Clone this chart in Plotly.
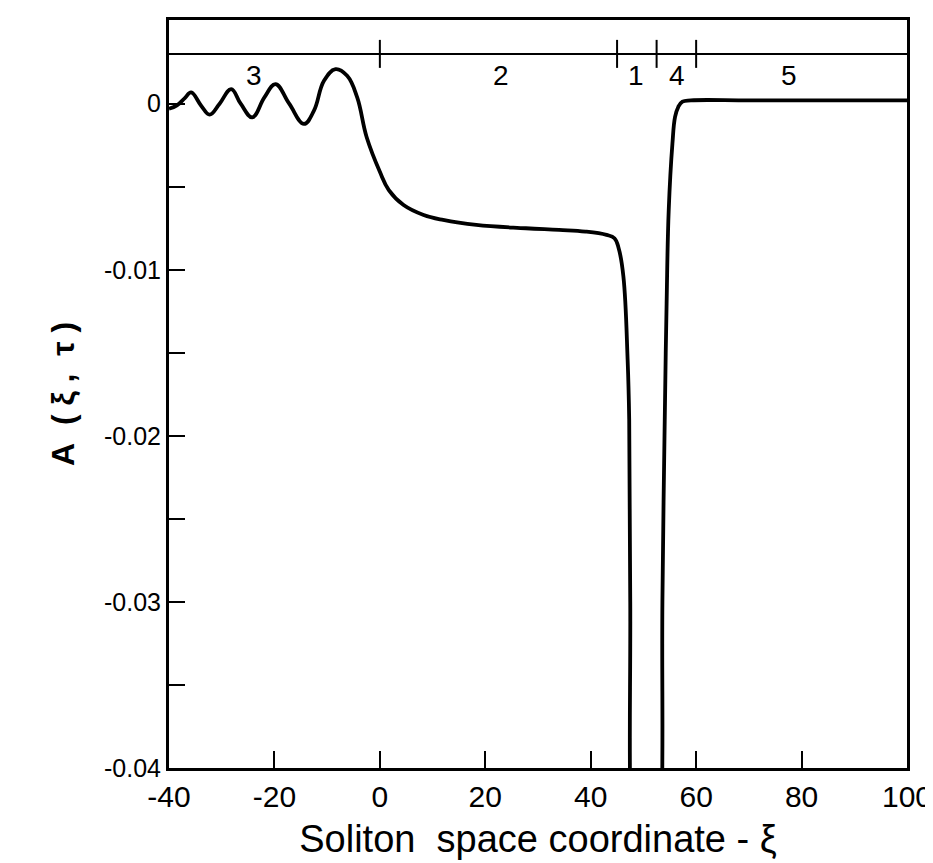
import plotly.graph_objects as go

# Curve A(xi, tau)
xi = [-40.0, -38.5, -37.0, -35.8, -33.9, -32.3, -30.4, -28.2, -26.4, -24.2,
      -21.9, -19.8, -17.2, -14.4, -12.5, -10.6, -8.4, -6.2, -4.3, -2.5,
      0.0, 1.7, 4.5, 8.3, 12.0, 18.3, 27.7, 34.0, 39.0, 43.0, 44.5, 45.3, 46.2,
      47.0, 47.3, 47.5, 47.7, 50.5, 53.3, 53.6, 54.0, 54.4, 54.8, 55.5, 56.0,
      56.6, 57.4, 59.0, 70.0, 85.0, 100.0]
amp = [-0.0003, -0.0001, 0.00034, 0.00068, -0.00012, -0.00066, 0.0, 0.00088,
       0.0, -0.00082, 0.00038, 0.00118, 0.0, -0.00122, -0.00042, 0.00138,
       0.00208, 0.00168, 0.00038, -0.00202, -0.0041, -0.0052, -0.0061,
       -0.0067, -0.0070, -0.0073, -0.0075, -0.0076, -0.0077, -0.0079, -0.0081,
       -0.0087, -0.0104, -0.0154, -0.019, -0.030, -0.045, -0.060, -0.045,
       -0.030, -0.020, -0.012, -0.0064, -0.0024, -0.0008, -0.0002, 0.00012,
       0.0002, 0.0002, 0.0002, 0.0002]

# Region markers along the top line
region_line_y = 0.003
region_bounds = [0, 45, 52.5, 60]
region_labels = ["3", "2", "1", "4", "5"]
region_label_x = [-23.8, 23.0, 48.5, 56.4, 77.7]
region_label_y = 0.0017

x_ticks = [-40, -20, 0, 20, 40, 60, 80, 100]
x_ticktext = ["-40", "-20", "0", "20", "40", "60", "80", "100"]
y_ticks = [0, -0.005, -0.01, -0.015, -0.02, -0.025, -0.03, -0.035, -0.04]
y_ticktext = ["0", "", "-0.01", "", "-0.02", "", "-0.03", "", "-0.04"]

FONT = "Liberation Sans, Arial, Helvetica, sans-serif"
NB = "\u00a0"

fig = go.Figure()
fig.add_trace(go.Scatter(x=xi, y=amp, mode="lines",
                         line=dict(color="black", width=3.8, shape="spline", smoothing=1.15),
                         hoverinfo="skip"))
fig.add_trace(go.Scatter(x=[-40, 100], y=[region_line_y, region_line_y], mode="lines",
                         line=dict(color="black", width=2), hoverinfo="skip"))
fig.add_trace(go.Scatter(x=region_bounds, y=[region_line_y] * len(region_bounds), mode="markers",
                         marker=dict(symbol="line-ns-open", size=20, color="black",
                                     line=dict(color="black", width=2)),
                         hoverinfo="skip"))
for lab, lx in zip(region_labels, region_label_x):
    fig.add_annotation(x=lx, y=region_label_y, text=lab, showarrow=False,
                       font=dict(size=28, color="black", family=FONT))

ytitle = "<b>A" + NB * 2 + "(" + NB + "ξ" + NB + "," + NB * 2 + "τ" + NB + ")</b>"
fig.add_annotation(xref="paper", yref="paper", x=0, y=0.50, xshift=-126,
                   text=ytitle, textangle=-90, showarrow=False,
                   font=dict(size=32, color="black", family=FONT))

fig.update_layout(
    width=933, height=863,
    margin=dict(l=161, r=30, t=9, b=103),
    paper_bgcolor="white", plot_bgcolor="white",
    showlegend=False,
    font=dict(family=FONT, color="black"),
    xaxis=dict(range=[-40, 100], tickvals=x_ticks, ticktext=x_ticktext,
               ticks="inside", ticklen=17,
               tickwidth=2, tickcolor="black", showline=True, linecolor="black",
               linewidth=3, mirror=True, showgrid=False, zeroline=False,
               tickfont=dict(size=30, family=FONT),
               title=dict(text="Soliton" + NB * 2 + "space coordinate - ξ",
                          font=dict(size=38, family=FONT), standoff=14)),
    yaxis=dict(range=[-0.04, 0.00504], tickvals=y_ticks, ticktext=y_ticktext,
               ticks="inside", ticklen=16, tickwidth=2, tickcolor="black",
               showline=True, linecolor="black", linewidth=3, mirror=True,
               showgrid=False, zeroline=False, tickfont=dict(size=25, family=FONT)),
)

fig.write_html("out.html")
